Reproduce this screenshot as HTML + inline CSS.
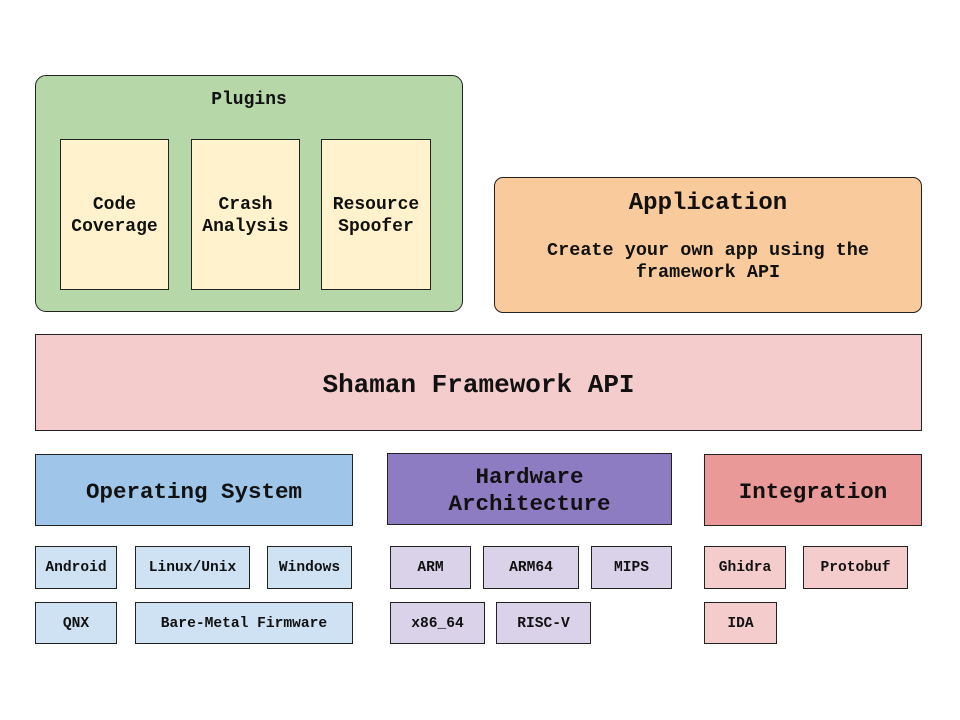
<!DOCTYPE html>
<html><head><meta charset="utf-8"><style>
body{margin:0;width:960px;height:720px;background:#fff;position:relative;overflow:hidden;font-family:"Liberation Mono","Courier New",monospace;font-weight:bold;color:#111}
.b{position:absolute;box-sizing:border-box;border:1px solid #222;display:flex;align-items:center;justify-content:center;text-align:center;line-height:1.2;padding-top:3px}
.s{font-size:14.6px}
.os{background:#cfe2f3}.hw{background:#d9d2e9}.in{background:#f4cccc}
</style></head><body>
<div class="b" style="left:35px;top:75px;width:428px;height:237px;background:#b6d7a8;border-radius:11px;align-items:flex-start;padding-top:14px;font-size:18px">Plugins</div>
<div class="b" style="left:60px;top:139px;width:109px;height:151px;background:#fff2cc;font-size:18px;padding-top:5px">Code<br>Coverage</div>
<div class="b" style="left:191px;top:139px;width:109px;height:151px;background:#fff2cc;font-size:18px;padding-top:5px">Crash<br>Analysis</div>
<div class="b" style="left:321px;top:139px;width:110px;height:151px;background:#fff2cc;font-size:18px;padding-top:5px">Resource<br>Spoofer</div>
<div class="b" style="left:494px;top:177px;width:428px;height:136px;background:#f9cb9c;border-radius:9px;flex-direction:column;justify-content:flex-start;padding-top:12px">
<div style="font-size:24px">Application</div>
<div style="font-size:18.5px;margin-top:21px;line-height:22px">Create your own app using the<br>framework API</div></div>
<div class="b" style="left:35px;top:334px;width:887px;height:97px;background:#f4cccc;font-size:26px;padding-top:6px">Shaman Framework API</div>
<div class="b" style="left:35px;top:454px;width:318px;height:72px;background:#9fc5e8;font-size:22.5px;padding-top:5px">Operating System</div>
<div class="b" style="left:387px;top:453px;width:285px;height:72px;background:#8e7cc3;font-size:22.5px;line-height:27px;padding-top:4px">Hardware<br>Architecture</div>
<div class="b" style="left:704px;top:454px;width:218px;height:72px;background:#ea9999;font-size:22.5px;padding-top:5px">Integration</div>
<div class="b s os" style="left:35px;top:546px;width:82px;height:43px">Android</div>
<div class="b s os" style="left:135px;top:546px;width:115px;height:43px">Linux/Unix</div>
<div class="b s os" style="left:267px;top:546px;width:85px;height:43px">Windows</div>
<div class="b s os" style="left:35px;top:602px;width:82px;height:42px">QNX</div>
<div class="b s os" style="left:135px;top:602px;width:218px;height:42px">Bare-Metal Firmware</div>
<div class="b s hw" style="left:390px;top:546px;width:81px;height:43px">ARM</div>
<div class="b s hw" style="left:483px;top:546px;width:96px;height:43px">ARM64</div>
<div class="b s hw" style="left:591px;top:546px;width:81px;height:43px">MIPS</div>
<div class="b s hw" style="left:390px;top:602px;width:95px;height:42px">x86_64</div>
<div class="b s hw" style="left:496px;top:602px;width:95px;height:42px">RISC-V</div>
<div class="b s in" style="left:704px;top:546px;width:82px;height:43px">Ghidra</div>
<div class="b s in" style="left:803px;top:546px;width:105px;height:43px">Protobuf</div>
<div class="b s in" style="left:704px;top:602px;width:73px;height:42px">IDA</div>
</body></html>
